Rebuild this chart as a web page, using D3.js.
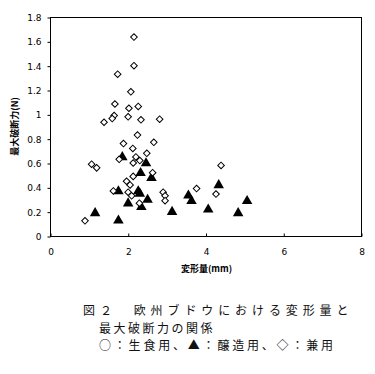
<!DOCTYPE html>
<html>
<head>
<meta charset="utf-8">
<script src="https://cdn.jsdelivr.net/npm/d3@7"></script>
<style>
  body { margin: 0; background: #fff; }
  text { font-family: "Noto Sans CJK JP", "DejaVu Sans", sans-serif; }
</style>
</head>
<body>
<div id="chart"></div>
<script>
// 醸造用 (triangles): [変形量 mm, 最大破断力 N]
var brewX = [1.86, 2.47, 2.33, 2.61, 1.76, 2.27, 2.31, 2.01, 2.51, 2.35, 1.16, 1.76, 3.14, 3.56, 3.64, 4.07, 4.34, 4.84, 5.07];
var brewY = [0.66, 0.61, 0.53, 0.49, 0.38, 0.38, 0.36, 0.28, 0.31, 0.25, 0.20, 0.14, 0.21, 0.345, 0.30, 0.23, 0.43, 0.20, 0.30];

// 兼用 (diamonds)
var dualX = [2.16, 2.16, 1.74, 2.08, 1.67, 2.03, 2.27, 1.65, 1.60, 1.39, 2.01, 2.34, 2.82,
             2.25, 1.89, 2.13, 2.67, 1.78, 2.21, 2.49, 2.14, 2.31, 1.07, 1.20, 2.64,
             1.97, 2.14, 2.06, 1.63, 2.01, 2.10, 2.30, 2.91, 2.96, 2.96, 3.77, 4.27, 4.40, 0.90];
var dualY = [1.635, 1.40, 1.33, 1.185, 1.085, 1.05, 1.065, 0.99, 0.965, 0.935, 0.98, 0.955, 0.96,
             0.83, 0.76, 0.72, 0.77, 0.63, 0.65, 0.68, 0.60, 0.62, 0.59, 0.56, 0.52,
             0.45, 0.49, 0.42, 0.37, 0.36, 0.33, 0.27, 0.36, 0.33, 0.29, 0.39, 0.345, 0.58, 0.125];

var xTicks = [0, 2, 4, 6, 8];
var yTicks = [0, 0.2, 0.4, 0.6, 0.8, 1, 1.2, 1.4, 1.6, 1.8];

var captionLines = ["図２　欧州ブドウにおける変形量と", "最大破断力の関係", "○：生食用、▲：醸造用、◇：兼用"];

var width = 375, height = 374;
var plotL = 50, plotR = 361, plotT = 17, plotB = 236;

var svg = d3.select("#chart").append("svg")
    .attr("width", width).attr("height", height);

var x = d3.scaleLinear().domain([0, 8]).range([plotL, plotR]);
var y = d3.scaleLinear().domain([0, 1.8]).range([plotB, plotT]);

// frame
svg.append("rect")
    .attr("x", plotL + 0.5).attr("y", plotT + 0.5)
    .attr("width", plotR - plotL).attr("height", plotB - plotT)
    .attr("fill", "none").attr("stroke", "#000").attr("stroke-width", 1);

// y axis
var yAxis = d3.axisLeft(y).tickValues(yTicks).tickSize(3).tickPadding(6)
    .tickFormat(function(d) { return String(+d.toFixed(1)); });
var gy = svg.append("g").attr("transform", "translate(" + (plotL + 0.5) + ",0.5)").call(yAxis);
gy.select(".domain").remove();
gy.selectAll("text").style("font-size", "9px").style("font-family", "'DejaVu Sans', sans-serif");

// x axis, ticks point inward
var xAxis = d3.axisBottom(x).tickValues(xTicks).tickSize(-3).tickPadding(12);
var gx = svg.append("g").attr("transform", "translate(0.5," + (plotB + 0.5) + ")").call(xAxis);
gx.select(".domain").remove();
gx.selectAll("text").style("font-size", "9px").style("font-family", "'DejaVu Sans', sans-serif");

// axis titles
svg.append("text")
    .attr("transform", "translate(18," + ((plotT + plotB) / 2) + ") rotate(-90)")
    .attr("text-anchor", "middle")
    .style("font-size", "9px").style("font-weight", "bold")
    .text("最大破断力(N)");

svg.append("text")
    .attr("x", (plotL + plotR) / 2 + 1).attr("y", 272)
    .attr("text-anchor", "middle")
    .style("font-size", "9px").style("font-weight", "bold")
    .text("変形量(mm)");

// triangles (shifted so the box centre, not the centroid, sits on the value)
var tri = d3.symbol().type(d3.symbolTriangle).size(48);
svg.append("g").selectAll("path")
    .data(d3.range(brewX.length)).enter().append("path")
    .attr("d", tri)
    .attr("transform", function(i) { return "translate(" + x(brewX[i]) + "," + (y(brewY[i]) + 1.5) + ")"; })
    .attr("fill", "#000");

// diamonds
var dia = d3.symbol().type(d3.symbolSquare).size(22);
svg.append("g").selectAll("path")
    .data(d3.range(dualX.length)).enter().append("path")
    .attr("d", dia)
    .attr("transform", function(i) { return "translate(" + x(dualX[i]) + "," + y(dualY[i]) + ") rotate(45)"; })
    .attr("fill", "#fff").attr("stroke", "#000").attr("stroke-width", 1);

// caption
var capX = [83, 99, 99], capY = [315, 333, 350], capLs = [4.9, 2.5, 2.8];
captionLines.forEach(function(t, i) {
  svg.append("text")
      .attr("x", capX[i]).attr("y", capY[i])
      .style("font-size", "12px").style("letter-spacing", capLs[i] + "px")
      .attr("fill", "#111")
      .text(t);
});
</script>
</body>
</html>
